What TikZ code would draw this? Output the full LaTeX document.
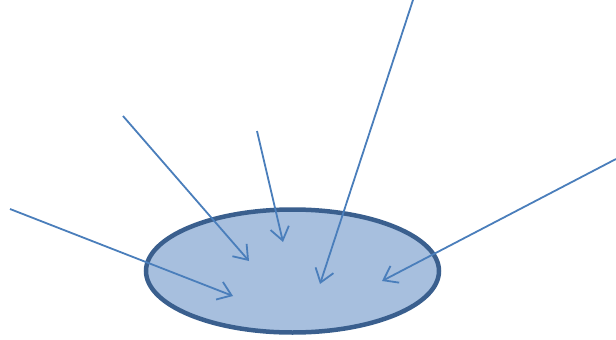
\documentclass[tikz,border=0pt]{standalone}
\usetikzlibrary{arrows.meta,shapes.geometric}
\definecolor{efill}{HTML}{A7BFDE}
\definecolor{eline}{HTML}{3A5F8E}
\definecolor{aline}{HTML}{4A7EBB}
\begin{document}
\begin{tikzpicture}[x=1pt,y=-1pt,
  ray/.style={draw=aline,line width=1.8pt,-{Straight Barb[angle=72:16pt,line width=1.8pt]}}]
\useasboundingbox (0,0) rectangle (616,340);
\node[ellipse,draw=eline,fill=efill,line width=4.5pt,minimum width=293pt,minimum height=123pt,inner sep=0pt] (e) at (292.5,271) {};
\coordinate (s1) at (10,209);   \coordinate (t1) at (233,296);
\coordinate (s2) at (123,116);  \coordinate (t2) at (249,261);
\coordinate (s3) at (257,131);  \coordinate (t3) at (283,242);
\coordinate (s4) at (413,0);    \coordinate (t4) at (320,284);
\coordinate (s5) at (616,159);  \coordinate (t5) at (382,281);
\draw[ray] (s1) -- (t1);
\draw[ray] (s2) -- (t2);
\draw[ray] (s3) -- (t3);
\draw[ray] (s4) -- (t4);
\draw[ray] (s5) -- (t5);
\end{tikzpicture}
\end{document}
